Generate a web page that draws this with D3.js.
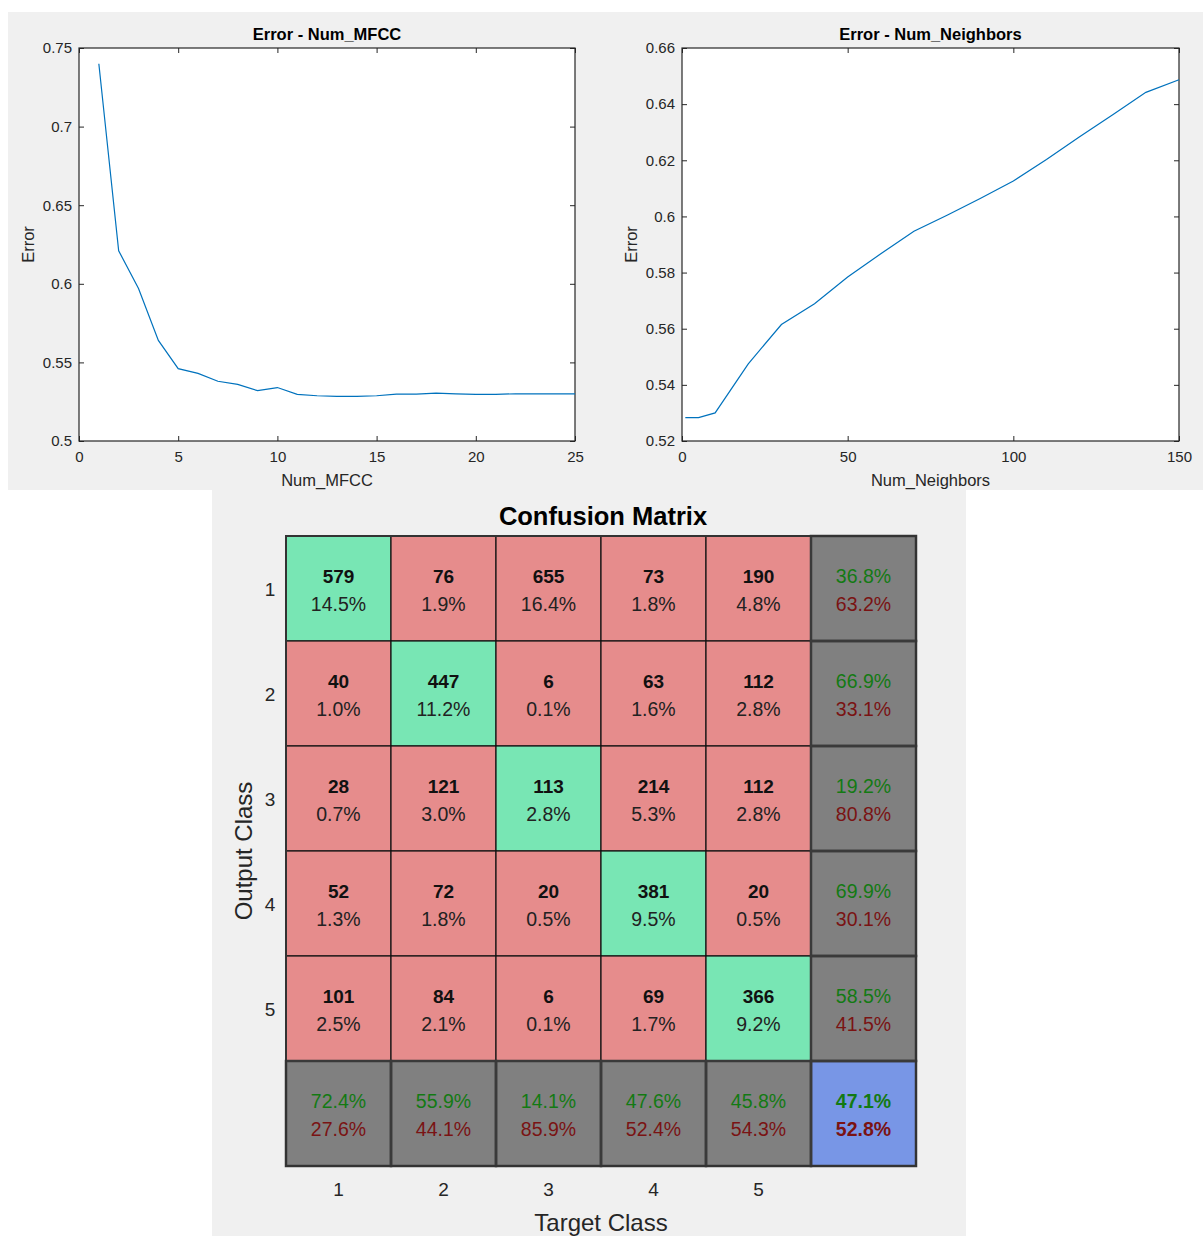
<!DOCTYPE html>
<html>
<head>
<meta charset="utf-8">
<script src="https://cdn.jsdelivr.net/npm/d3@7"></script>
<style>
  body { margin: 0; background: #fff; }
  svg { display: block; font-family: "Liberation Sans", Arial, Helvetica, sans-serif; }
</style>
</head>
<body>
<div id="chart"></div>
<script>
// data
const mfccX = d3.range(1, 26);
const mfccErr = [0.740, 0.621, 0.597, 0.564, 0.546, 0.543, 0.538, 0.536, 0.532, 0.534,
                 0.5297, 0.5288, 0.5284, 0.5284, 0.5288, 0.5298, 0.5298, 0.5304, 0.5300, 0.5296,
                 0.5297, 0.5300, 0.5300, 0.5300, 0.5300];
const mfccXTicks = [0, 5, 10, 15, 20, 25];
const mfccYTicks = [0.5, 0.55, 0.6, 0.65, 0.7, 0.75];

const nbX = [1, 5, 10, 20, 30, 40, 50, 60, 70, 80, 90, 100, 110, 120, 130, 140, 150];
const nbErr = [0.5283, 0.5283, 0.5300, 0.5475, 0.5615, 0.5689, 0.5784, 0.5867, 0.5947, 0.6004,
               0.6064, 0.6126, 0.6203, 0.6284, 0.6362, 0.6442, 0.6487];
const nbXTicks = [0, 50, 100, 150];
const nbYTicks = [0.52, 0.54, 0.56, 0.58, 0.6, 0.62, 0.64, 0.66];

const classes = ["1", "2", "3", "4", "5"];
// rows = output class, cols = target class
const counts = [
  [579, 76, 655, 73, 190],
  [40, 447, 6, 63, 112],
  [28, 121, 113, 214, 112],
  [52, 72, 20, 381, 20],
  [101, 84, 6, 69, 366]
];

const W = 1203, H = 1236;
const svg = d3.select("#chart").append("svg")
  .attr("width", W).attr("height", H);

svg.append("rect").attr("width", W).attr("height", H).attr("fill", "#fff");
// figure backgrounds
svg.append("rect").attr("x", 8).attr("y", 12).attr("width", W - 8).attr("height", 478).attr("fill", "#f0f0f0");
svg.append("rect").attr("x", 212).attr("y", 490).attr("width", 754).attr("height", H - 490).attr("fill", "#f0f0f0");

const txtCol = "#262626";

function linePlot(opt) {
  const x = d3.scaleLinear().domain(opt.xDomain).range([opt.left, opt.right]);
  const y = d3.scaleLinear().domain(opt.yDomain).range([opt.bottom, opt.top]);
  const g = svg.append("g");

  g.append("rect")
    .attr("x", opt.left).attr("y", opt.top)
    .attr("width", opt.right - opt.left).attr("height", opt.bottom - opt.top)
    .attr("fill", "#fff");

  const fmt = d => String(+d.toFixed(4));

  const ax = (axis, tr, labels) => {
    const a = g.append("g").attr("transform", tr).call(axis);
    a.select(".domain").remove();
    a.selectAll(".tick line").attr("stroke", txtCol);
    a.selectAll("text").attr("fill", txtCol).style("font-size", "15px");
    if (!labels) a.selectAll("text").remove();
    return a;
  };
  ax(d3.axisBottom(x).tickValues(opt.xTicks).tickFormat(fmt).tickSizeInner(-5).tickSizeOuter(0).tickPadding(10),
     `translate(0,${opt.bottom})`, true);
  ax(d3.axisTop(x).tickValues(opt.xTicks).tickSizeInner(-5).tickSizeOuter(0),
     `translate(0,${opt.top})`, false);
  ax(d3.axisLeft(y).tickValues(opt.yTicks).tickFormat(fmt).tickSizeInner(-5).tickSizeOuter(0).tickPadding(7),
     `translate(${opt.left},0)`, true);
  ax(d3.axisRight(y).tickValues(opt.yTicks).tickSizeInner(-5).tickSizeOuter(0),
     `translate(${opt.right},0)`, false);

  g.append("rect")
    .attr("x", opt.left).attr("y", opt.top)
    .attr("width", opt.right - opt.left).attr("height", opt.bottom - opt.top)
    .attr("fill", "none").attr("stroke", txtCol).attr("stroke-width", 1.2);

  const line = d3.line().x(d => x(d[0])).y(d => y(d[1]));
  g.append("path")
    .datum(opt.xs.map((v, i) => [v, opt.ys[i]]))
    .attr("d", line)
    .attr("fill", "none")
    .attr("stroke", "#0072BD")
    .attr("stroke-width", 1.2);

  const cx = (opt.left + opt.right) / 2;
  g.append("text").attr("x", cx).attr("y", opt.top - 8)
    .attr("text-anchor", "middle").style("font-size", "16.5px").style("font-weight", "bold")
    .attr("fill", "#000").text(opt.title);
  g.append("text").attr("x", cx).attr("y", opt.bottom + 45)
    .attr("text-anchor", "middle").style("font-size", "16.5px")
    .attr("fill", txtCol).text(opt.xLabel);
  g.append("text")
    .attr("transform", `translate(${opt.left - 45},${(opt.top + opt.bottom) / 2}) rotate(-90)`)
    .attr("text-anchor", "middle").style("font-size", "16.5px")
    .attr("fill", txtCol).text("Error");
}

linePlot({
  left: 79, right: 575, top: 48, bottom: 441,
  xDomain: [0, 25], yDomain: [0.5, 0.75],
  xTicks: mfccXTicks, yTicks: mfccYTicks,
  xs: mfccX, ys: mfccErr,
  title: "Error - Num_MFCC", xLabel: "Num_MFCC"
});

linePlot({
  left: 682, right: 1179, top: 48, bottom: 441,
  xDomain: [0, 150], yDomain: [0.52, 0.66],
  xTicks: nbXTicks, yTicks: nbYTicks,
  xs: nbX, ys: nbErr,
  title: "Error - Num_Neighbors", xLabel: "Num_Neighbors"
});

// ---------- confusion matrix ----------
const n = classes.length;
const total = d3.sum(counts.flat());
const rowSum = counts.map(r => d3.sum(r));
const colSum = classes.map((c, j) => d3.sum(counts, r => r[j]));
const diag = counts.map((r, i) => r[i]);

const cmX = d3.scaleBand().domain(d3.range(n + 1)).range([286, 916]);
const cmY = d3.scaleBand().domain(d3.range(n + 1)).range([536, 1166]);
const bw = cmX.bandwidth();

const GREEN = "#78E6B4", RED = "#E68C8C", GRAY = "#808080", BLUE = "#7896E6";
const goodTxt = "#137a13", badTxt = "#7a1313";
const pct = v => (v * 100).toFixed(1) + "%";

const cm = svg.append("g");

const cells = [];
for (let i = 0; i <= n; i++) {
  for (let j = 0; j <= n; j++) {
    let c = { i, j };
    if (i < n && j < n) {
      c.type = i === j ? "diag" : "off";
      c.count = counts[i][j];
      c.frac = counts[i][j] / total;
    } else if (i < n && j === n) {
      c.type = "sum";
      c.good = diag[i] / rowSum[i];
    } else if (i === n && j < n) {
      c.type = "sum";
      c.good = diag[j] / colSum[j];
    } else {
      c.type = "all";
      c.good = d3.sum(diag) / total;
    }
    cells.push(c);
  }
}

const fillOf = { diag: GREEN, off: RED, sum: GRAY, all: BLUE };

cm.selectAll("rect.cell")
  .data(cells)
  .join("rect")
  .attr("class", "cell")
  .attr("x", d => cmX(d.j)).attr("y", d => cmY(d.i))
  .attr("width", bw).attr("height", bw)
  .attr("fill", d => fillOf[d.type])
  .attr("stroke", "#111").attr("stroke-width", 1.2);

// darker frames around the summary cells
cm.selectAll("rect.frame")
  .data(cells.filter(d => d.type === "sum" || d.type === "all"))
  .join("rect")
  .attr("class", "frame")
  .attr("x", d => cmX(d.j)).attr("y", d => cmY(d.i))
  .attr("width", bw).attr("height", bw)
  .attr("fill", "none").attr("stroke", "#3a3a3a").attr("stroke-width", 2.5);

cm.append("rect")
  .attr("x", 286).attr("y", 536).attr("width", 630).attr("height", 630)
  .attr("fill", "none").attr("stroke", "#333").attr("stroke-width", 2);

const inner = cells.filter(d => d.type === "diag" || d.type === "off");
cm.selectAll("text.cnt")
  .data(inner)
  .join("text")
  .attr("class", "cnt")
  .attr("x", d => cmX(d.j) + bw / 2).attr("y", d => cmY(d.i) + 47)
  .attr("text-anchor", "middle").style("font-size", "19px").style("font-weight", "bold")
  .attr("fill", "#111").text(d => d.count);
cm.selectAll("text.frac")
  .data(inner)
  .join("text")
  .attr("class", "frac")
  .attr("x", d => cmX(d.j) + bw / 2).attr("y", d => cmY(d.i) + 75)
  .attr("text-anchor", "middle").style("font-size", "19.5px")
  .attr("fill", "#222").text(d => pct(d.frac));

const summ = cells.filter(d => d.type === "sum" || d.type === "all");
cm.selectAll("text.good")
  .data(summ)
  .join("text")
  .attr("class", "good")
  .attr("x", d => cmX(d.j) + bw / 2).attr("y", d => cmY(d.i) + 47)
  .attr("text-anchor", "middle").style("font-size", "19.5px")
  .style("font-weight", d => d.type === "all" ? "bold" : "normal")
  .attr("fill", goodTxt).text(d => pct(d.good));
cm.selectAll("text.bad")
  .data(summ)
  .join("text")
  .attr("class", "bad")
  .attr("x", d => cmX(d.j) + bw / 2).attr("y", d => cmY(d.i) + 75)
  .attr("text-anchor", "middle").style("font-size", "19.5px")
  .style("font-weight", d => d.type === "all" ? "bold" : "normal")
  .attr("fill", badTxt).text(d => pct(1 - d.good));

// tick labels
cm.selectAll("text.ylab")
  .data(classes)
  .join("text")
  .attr("class", "ylab")
  .attr("x", 270).attr("y", (d, i) => cmY(i) + bw / 2 + 7)
  .attr("text-anchor", "middle").style("font-size", "19px")
  .attr("fill", txtCol).text(d => d);
cm.selectAll("text.xlab")
  .data(classes)
  .join("text")
  .attr("class", "xlab")
  .attr("x", (d, i) => cmX(i) + bw / 2).attr("y", 1196)
  .attr("text-anchor", "middle").style("font-size", "19px")
  .attr("fill", txtCol).text(d => d);

cm.append("text").attr("x", 603).attr("y", 525)
  .attr("text-anchor", "middle").style("font-size", "25.5px").style("font-weight", "bold")
  .attr("fill", "#000").text("Confusion Matrix");
cm.append("text").attr("x", 601).attr("y", 1231)
  .attr("text-anchor", "middle").style("font-size", "24px")
  .attr("fill", txtCol).text("Target Class");
cm.append("text")
  .attr("transform", `translate(252,851) rotate(-90)`)
  .attr("text-anchor", "middle").style("font-size", "24px")
  .attr("fill", txtCol).text("Output Class");
</script>
</body>
</html>
